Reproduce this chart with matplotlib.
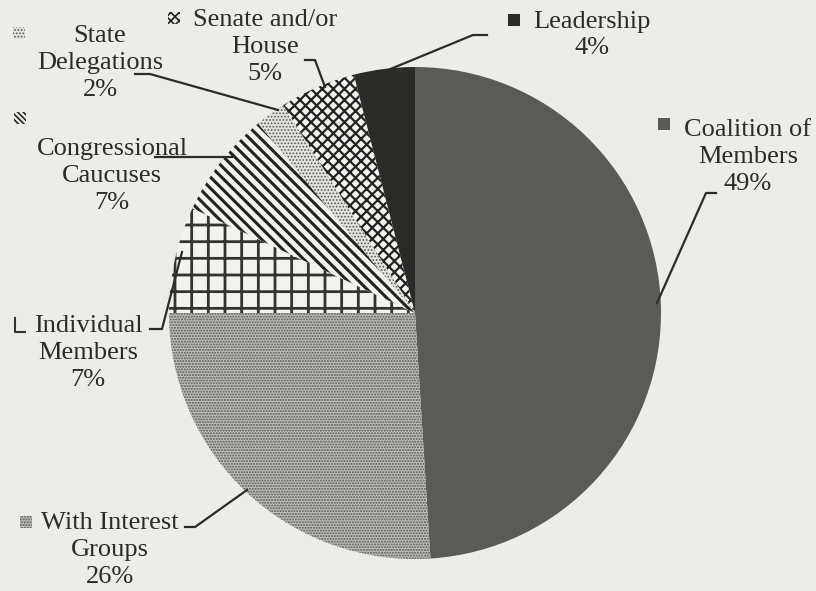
import matplotlib.pyplot as plt
from matplotlib.patches import Rectangle

plt.rcParams['font.family'] = ['Liberation Serif', 'DejaVu Serif']

# Data (clockwise from 12 o'clock)
categories = ['Coalition of\nMembers', 'With Interest\nGroups', 'Individual\nMembers',
              'Congressional\nCaucuses', 'State\nDelegations', 'Senate and/or\nHouse',
              'Leadership']
shares = [49, 26, 7, 7, 2, 5, 4]

# Styles per slice: face, hatch, hatch colour, hatch width
faces = ['#5a5a56', '#c0c0bc', '#f2f2ee', '#f2f2ee', '#e2e2de', '#f2f2ee', '#2a2a28']
hatches = ['', '......', '+', '\\\\\\', '.....', 'xxx', '']
icon_hatches = ['', '......', '', '\\\\\\\\\\\\', '.....', 'xxxx', '']
hcolors = ['#333', '#555', '#333', '#222', '#555', '#222', '#222']
hwidths = [1.0, 1.0, 2.0, 2.2, 0.8, 1.6, 1.0]

# Label layout in image pixels: (text x, text y, icon x, icon y)
W, H = 816, 591
label_pos = [(748, 157, 658, 124), (110, 550, 20, 522), (88, 353, 15, 326),
             (112, 176, 14, 118), (100, 63, 13, 33), (265, 47, 168, 18),
             (592, 35, 508, 20)]
# Leader lines in image pixels
leaders = [[(657, 303), (706, 193), (716, 193)],
           [(185, 527), (195, 527), (247, 490)],
           [(150, 329), (162, 329), (182, 252)],
           [(155, 157), (232, 157)],
           [(135, 74), (150, 74), (278, 110)],
           [(305, 60), (315, 60), (325, 87)],
           [(487, 35), (473, 35), (388, 70)]]

BG = '#ececE8'
fig = plt.figure(figsize=(8.16, 5.91), dpi=100, facecolor=BG)
ax = fig.add_axes([0, 0, 1, 1])

cx, cy, r = 415, H - 313, 246
wedges, _ = ax.pie(shares, startangle=90, counterclock=False, center=(cx, cy),
                   radius=r, frame=True, colors=faces,
                   wedgeprops=dict(linewidth=0))
ax.set_xlim(0, W)
ax.set_ylim(0, H)
ax.set_aspect('equal')
ax.axis('off')

for w, h, hc, hw in zip(wedges, hatches, hcolors, hwidths):
    w.set_hatch(h)
    w.set_edgecolor(hc)
    w.set_linewidth(0)
    if hasattr(w, 'set_hatch_linewidth'):
        w.set_hatch_linewidth(hw)

for i, (lab, val) in enumerate(zip(categories, shares)):
    tx, ty, ix, iy = label_pos[i]
    ax.text(tx, H - ty, f'{lab}\n{val}%', ha='center', va='center',
            fontsize=19, color='#2b2b2b', linespacing=1.27)
    if i == 2:
        # open bracket icon for Individual Members
        ax.plot([ix, ix, ix + 10], [H - iy + 8, H - iy - 6, H - iy - 6],
                color='#333', lw=1.5)
    else:
        sq = Rectangle((ix, H - iy - 6), 12, 12, facecolor=faces[i],
                       hatch=icon_hatches[i], edgecolor=hcolors[i], linewidth=0)
        if hasattr(sq, 'set_hatch_linewidth'):
            sq.set_hatch_linewidth(min(hwidths[i], 1.2))
        ax.add_patch(sq)
    xs = [p[0] for p in leaders[i]]
    ys = [H - p[1] for p in leaders[i]]
    ax.plot(xs, ys, color='#2b2b2b', lw=1.6)

fig.savefig('out.png', dpi=100, facecolor=BG)
